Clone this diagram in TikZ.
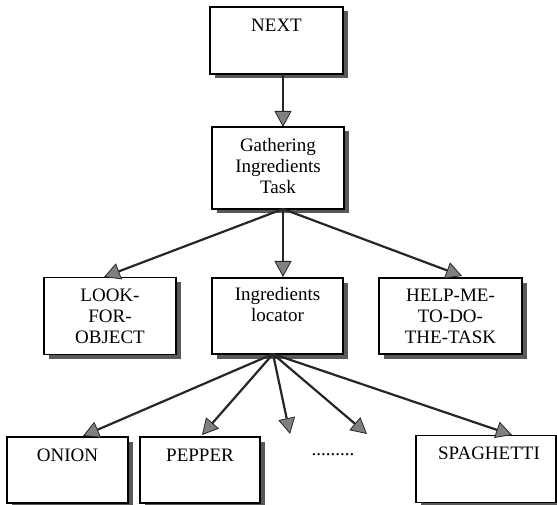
\documentclass[tikz,border=0pt]{standalone}
\usepackage{fontspec}
\setmainfont{Liberation Serif}
\usetikzlibrary{arrows.meta}
\tikzset{
  box/.style={draw=black, line width=1.4pt, fill=white, inner sep=0pt},
  shadowbox/.style={draw=none, fill=black!65, inner sep=0pt},
  lbl/.style={align=center, inner sep=0pt, font=\fontsize{19}{21}\selectfont},
  conn/.style={draw=black!85, line width=2.2pt,
    -{Triangle[width=17pt,length=16pt,fill=black!50,line width=0.8pt]}},
}
% name, x, y, width, height
\newcommand\mybox[5]{%
  \path (#2,#3) ++(4.5,4.5) node[shadowbox, minimum width=#4pt, minimum height=#5pt] (#1S) {};
  \path (#2,#3) node[box, minimum width=#4pt, minimum height=#5pt] (#1) {};
}
\begin{document}
\begin{tikzpicture}[x=1pt,y=-1pt]
\useasboundingbox (0,0) rectangle (557,505);
% boxes
\mybox{next}{276.5}{40.5}{133}{67}
\node[lbl] (nextT) at (276.5,25) {NEXT};
\mybox{gather}{278}{168}{132}{82}
\node[lbl] (gatherT) at (278,166) {Gathering\\Ingredients\\Task};
\mybox{look}{110}{316}{132}{77}
\node[lbl] (lookT) at (110,316) {LOOK-\\FOR-\\OBJECT};
\mybox{loc}{277.5}{316}{131}{76}
\node[lbl] (locT) at (277.5,305) {Ingredients\\locator};
\mybox{help}{450.5}{316}{143}{76}
\node[lbl] (helpT) at (450.5,316) {HELP-ME-\\TO-DO-\\THE-TASK};
\mybox{onion}{67.5}{470}{121}{66}
\node[lbl] (onionT) at (67.5,455) {ONION};
\mybox{pepper}{200}{470}{120}{66}
\node[lbl] (pepperT) at (200,455) {PEPPER};
\mybox{spag}{486}{469}{140}{67}
\node[lbl] (spagT) at (489,453) {SPAGHETTI};
\node[lbl] (dots) at (333,455) {.........};
% connector coordinates
\coordinate (n0) at (283,74);
\coordinate (n1) at (283,127);
\coordinate (g0) at (283,209);
\coordinate (t1) at (104,277);
\coordinate (t2) at (283,277);
\coordinate (t3) at (462,276);
\coordinate (l0) at (273,354);
\coordinate (u1) at (83,436);
\coordinate (u2) at (202,435);
\coordinate (u3) at (290,434);
\coordinate (u4) at (367,434);
\coordinate (u5) at (512,435);
% connectors
\draw[conn] (n0) -- (n1);
\draw[conn] (g0) -- (t1);
\draw[conn] (g0) -- (t2);
\draw[conn] (g0) -- (t3);
\draw[conn] (l0) -- (u1);
\draw[conn] (l0) -- (u2);
\draw[conn] (l0) -- (u3);
\draw[conn] (l0) -- (u4);
\draw[conn] (l0) -- (u5);
\end{tikzpicture}
\end{document}
